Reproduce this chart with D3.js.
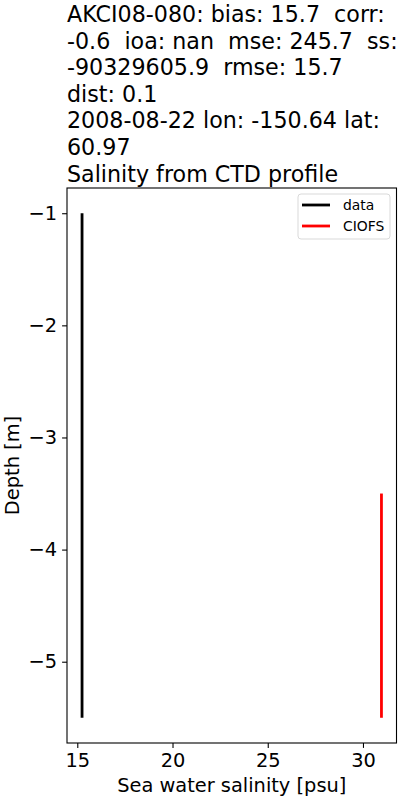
<!DOCTYPE html>
<html><head><meta charset="utf-8">
<script src="https://cdn.jsdelivr.net/npm/d3@7"></script>
<style>body{margin:0;background:#fff}svg{display:block}text{font-family:"DejaVu Sans",sans-serif;white-space:pre}</style>
</head><body><svg id="c" width="400" height="800"></svg>
<script>
const titleLines = ["AKCI08-080: bias: 15.7  corr:", "-0.6  ioa: nan  mse: 245.7  ss:", "-90329605.9  rmse: 15.7", "dist: 0.1", "2008-08-22 lon: -150.64 lat:", "60.97", "Salinity from CTD profile"];
const dataDepth = [-1, -5.5];
const dataSal = [15.25, 15.25];
const modelDepth = [-3.5, -5.5];
const modelSal = [30.97, 30.97];
const xTicks = [15, 20, 25, 30];
const yTicks = [-1, -2, -3, -4, -5];
const seriesNames = ["data", "CIOFS"];
const seriesColors = ["#000000", "#ff0000"];

const svg = d3.select("#c");
const L = 67, R = 396.5, T = 188, B = 743;
const x = d3.scaleLinear().domain([14.46, 31.76]).range([L, R]);
const y = d3.scaleLinear().domain([-0.775, -5.725]).range([T, B]);

// title
svg.append("g").selectAll("text").data(titleLines).join("text")
  .attr("x", 67).attr("y", (d, i) => 22 + i * 26.6)
  .attr("xml:space", "preserve")
  .attr("font-size", 22.2).attr("fill", "#000").text(d => d);

const line = d3.line().x(d => x(d[0])).y(d => y(d[1]));
const series = [dataSal.map((s, i) => [s, dataDepth[i]]), modelSal.map((s, i) => [s, modelDepth[i]])];
svg.append("g").selectAll("path").data(series).join("path")
  .attr("d", line).attr("fill", "none")
  .attr("stroke", (d, i) => seriesColors[i]).attr("stroke-width", 2.8);

// axes
const fmt = d => d < 0 ? "\u2212" + Math.abs(d) : String(d);
const xa = svg.append("g").attr("transform", `translate(0,${B})`)
  .call(d3.axisBottom(x).tickValues(xTicks).tickSize(4.9).tickPadding(4.9).tickFormat(fmt));
const ya = svg.append("g").attr("transform", `translate(${L},0)`)
  .call(d3.axisLeft(y).tickValues(yTicks).tickSize(4.9).tickPadding(4.9).tickFormat(fmt));
[xa, ya].forEach(a => {
  a.select(".domain").remove();
  a.selectAll("line").attr("stroke", "#000").attr("stroke-width", 1.1);
  a.selectAll("text").attr("font-size", 19.4).attr("fill", "#000").attr("font-family", "DejaVu Sans");
});

svg.append("rect").attr("x", L).attr("y", T).attr("width", R - L).attr("height", B - T)
  .attr("fill", "none").attr("stroke", "#000").attr("stroke-width", 1.1);

svg.append("text").attr("x", (L + R) / 2).attr("y", 792).attr("text-anchor", "middle")
  .attr("font-size", 19.4).text("Sea water salinity [psu]");
svg.append("text").attr("transform", `translate(19,${(T + B) / 2}) rotate(-90)`)
  .attr("text-anchor", "middle").attr("font-size", 19.4).text("Depth [m]");

// legend
const lg = svg.append("g");
lg.append("rect").attr("x", 298).attr("y", 194).attr("width", 92).attr("height", 45).attr("rx", 3)
  .attr("fill", "#fff").attr("fill-opacity", 0.8).attr("stroke", "#d9d9d9").attr("stroke-width", 1);
seriesNames.forEach((n, i) => {
  const yy = 205 + i * 21;
  lg.append("line").attr("x1", 302).attr("x2", 330).attr("y1", yy).attr("y2", yy)
    .attr("stroke", seriesColors[i]).attr("stroke-width", 2.8);
  lg.append("text").attr("x", 343).attr("y", yy + 5).attr("font-size", 13.9).text(n);
});
</script></body></html>
